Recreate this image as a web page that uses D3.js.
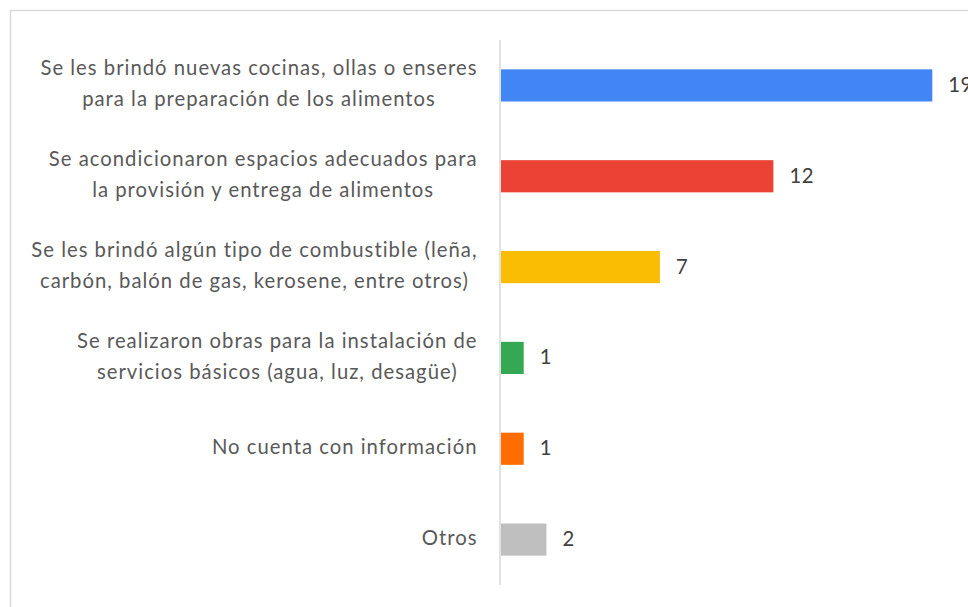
<!DOCTYPE html>
<html>
<head>
<meta charset="utf-8">
<script src="https://cdn.jsdelivr.net/npm/d3@7"></script>
<style>
  html, body { margin: 0; padding: 0; background: #fff; }
  svg { display: block; }
</style>
</head>
<body>
<div id="chart"></div>
<script>
// Chart data
const categories = [
    ["Se les brindó nuevas cocinas, ollas o enseres", "para la preparación de los alimentos"],
    ["Se acondicionaron espacios adecuados para", "la provisión y entrega de alimentos"],
    ["Se les brindó algún tipo de combustible (leña,", "carbón, balón de gas, kerosene, entre otros)"],
    ["Se realizaron obras para la instalación de", "servicios básicos (agua, luz, desagüe)"],
    ["No cuenta con información"],
    ["Otros"]
];
const values = [19, 12, 7, 1, 1, 2];
const barColors = ["#4285F4", "#EA4335", "#FBBC04", "#34A853", "#FF6D01", "#BFBFBF"];

const width = 968;
const height = 607;
const FONT = "Lato, 'Open Sans', sans-serif";
const FONT_SIZE = 20.3;
const LINE_H = 31;

const svg = d3
    .select("#chart")
    .append("svg")
    .attr("width", width)
    .attr("height", height);

// outer chart border (runs off the right and bottom edges)
svg.append("rect")
    .attr("x", 10.5)
    .attr("y", 10.5)
    .attr("width", 1000)
    .attr("height", 700)
    .attr("fill", "#fff")
    .attr("stroke", "#d9d9d9")
    .attr("stroke-width", 1.5);

const ids = categories.map((d, i) => i);

const y = d3
    .scaleBand()
    .domain(ids)
    .range([40, 585])
    .paddingInner(0.646)
    .paddingOuter(0.323);

const x = d3.scaleLinear().domain([0, 20]).range([501, 955]);

// bars
svg.selectAll("rect.bar")
    .data(values)
    .enter()
    .append("rect")
    .attr("class", "bar")
    .attr("x", x(0))
    .attr("y", (d, i) => y(i))
    .attr("width", (d) => x(d) - x(0))
    .attr("height", y.bandwidth())
    .attr("fill", (d, i) => barColors[i]);

// vertical axis line
svg.append("line")
    .attr("x1", 500)
    .attr("x2", 500)
    .attr("y1", 40)
    .attr("y2", 585)
    .attr("stroke", "#d9d9d9")
    .attr("stroke-width", 1.5);

// value labels
svg.selectAll("text.value")
    .data(values)
    .enter()
    .append("text")
    .attr("class", "value")
    .attr("x", (d) => x(d) + 16)
    .attr("y", (d, i) => y(i) + y.bandwidth() / 2 + 6.5)
    .attr("font-family", FONT)
    .attr("font-size", FONT_SIZE)
    .attr("letter-spacing", 0.5)
    .attr("fill", "#404040")
    .text((d) => d);

// category labels: lines centered on each other, block right-aligned
const labelRight = 477;
categories.forEach((lines, i) => {
    const cy = y(i) + y.bandwidth() / 2;
    const g = svg.append("g");
    const texts = lines.map((line, k) =>
        g.append("text")
            .attr("y", cy + 5.5 + (k - (lines.length - 1) / 2) * LINE_H)
            .attr("font-family", FONT)
            .attr("font-size", FONT_SIZE)
            .attr("letter-spacing", 1)
            .attr("fill", "#595959")
            .attr("text-anchor", "middle")
            .text(line)
    );
    // getComputedTextLength includes the trailing letter-spacing, so trim it
    const maxW = d3.max(texts, (t) => t.node().getComputedTextLength()) - 1;
    texts.forEach((t) => t.attr("x", labelRight - maxW / 2));
});
</script>
</body>
</html>
